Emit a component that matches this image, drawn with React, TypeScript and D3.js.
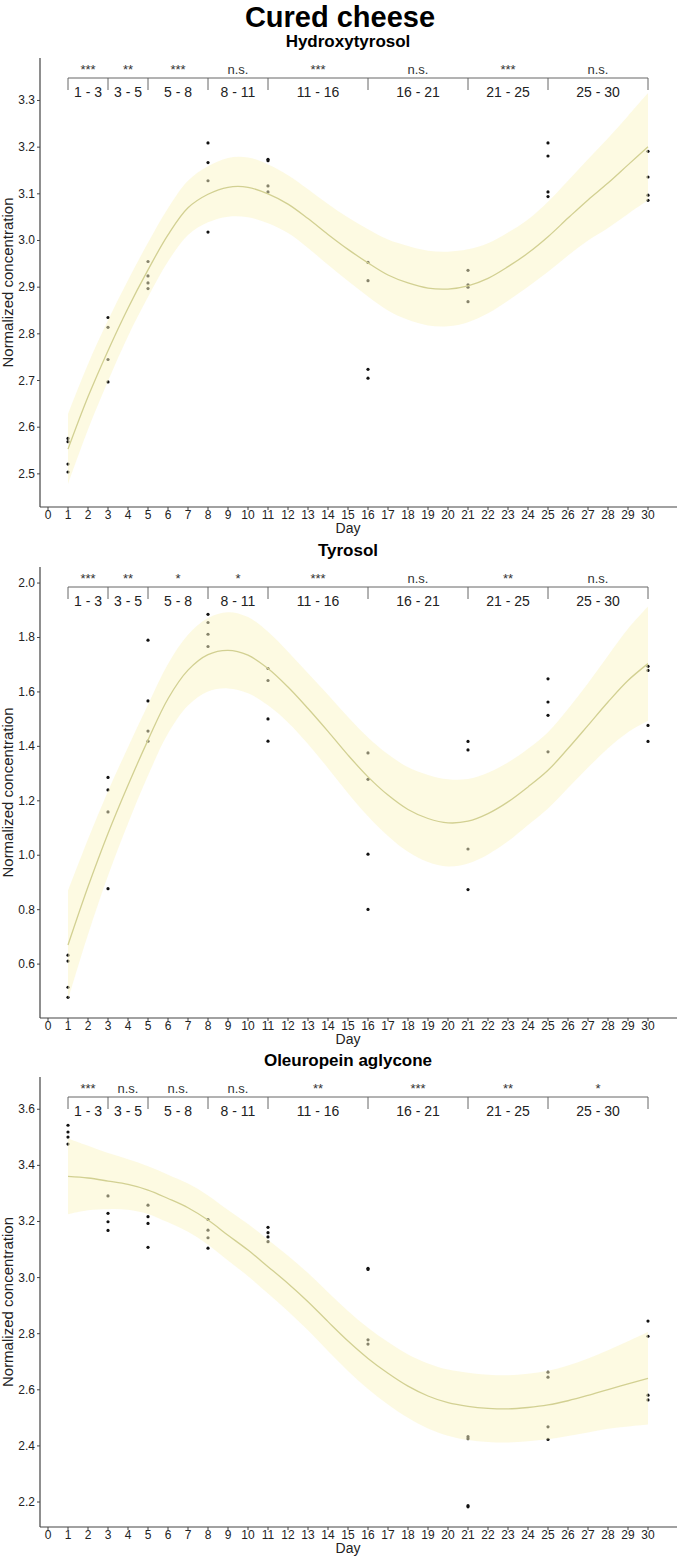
import React from 'react';
import * as d3 from 'd3';

const W = 679;
const H = 1559;
const FONT = '"Liberation Sans", Arial, sans-serif';

// sampling days
const sampleDays = [1, 3, 5, 8, 11, 16, 21, 25, 30];
const xTickLabels = ['0', '1', '2', '3', '4', '5', '6', '7', '8', '9', '10', '11', '12', '13', '14', '15',
  '16', '17', '18', '19', '20', '21', '22', '23', '24', '25', '26', '27', '28', '29', '30'];
const fitDays = [1, 2, 3, 4, 5, 6, 7, 8, 9, 10, 11, 12, 13, 14, 15, 16, 17, 18, 19, 20, 21, 22, 23, 24, 25, 26, 27, 28, 29, 30];
const intervals = ['1 - 3', '3 - 5', '5 - 8', '8 - 11', '11 - 16', '16 - 21', '21 - 25', '25 - 30'];

// Hydroxytyrosol
const htyPoints = [
  [2.576, 2.569, 2.521, 2.504],
  [2.835, 2.814, 2.745, 2.697],
  [2.955, 2.924, 2.909, 2.897],
  [3.209, 3.167, 3.128, 3.018],
  [3.174, 3.171, 3.117, 3.104],
  [2.953, 2.914, 2.724, 2.705],
  [2.936, 2.905, 2.900, 2.869],
  [3.209, 3.181, 3.104, 3.094],
  [3.191, 3.136, 3.097, 3.086],
];
const htyFit = [2.553, 2.665, 2.764, 2.855, 2.937, 3.012, 3.070, 3.099, 3.114, 3.114, 3.100, 3.078, 3.047, 3.013, 2.981,
  2.952, 2.926, 2.909, 2.898, 2.896, 2.903, 2.919, 2.944, 2.973, 3.008, 3.048, 3.087, 3.123, 3.162, 3.201];
const htyCi = [0.075, 0.07, 0.065, 0.06, 0.058, 0.057, 0.058, 0.06, 0.063, 0.064, 0.063, 0.062, 0.063, 0.065, 0.068,
  0.072, 0.076, 0.079, 0.08, 0.08, 0.078, 0.075, 0.073, 0.072, 0.075, 0.08, 0.087, 0.096, 0.105, 0.115];
const htySig = ['***', '**', '***', 'n.s.', '***', 'n.s.', '***', 'n.s.'];
const htyTicks = [2.5, 2.6, 2.7, 2.8, 2.9, 3.0, 3.1, 3.2, 3.3];

// Tyrosol
const tyrPoints = [
  [0.633, 0.611, 0.515, 0.478],
  [1.286, 1.240, 1.159, 0.877],
  [1.790, 1.567, 1.456, 1.419],
  [1.885, 1.855, 1.812, 1.767],
  [1.686, 1.642, 1.501, 1.419],
  [1.376, 1.279, 1.004, 0.801],
  [1.418, 1.387, 1.023, 0.874],
  [1.648, 1.563, 1.514, 1.380],
  [1.694, 1.679, 1.477, 1.418],
];
const tyrFit = [0.670, 0.884, 1.080, 1.257, 1.423, 1.575, 1.680, 1.737, 1.753, 1.735, 1.686, 1.618, 1.539, 1.455, 1.368,
  1.288, 1.221, 1.168, 1.135, 1.119, 1.125, 1.153, 1.196, 1.251, 1.312, 1.392, 1.477, 1.563, 1.642, 1.704];
const tyrCi = [0.2, 0.175, 0.155, 0.14, 0.13, 0.128, 0.13, 0.135, 0.14, 0.14, 0.135, 0.13, 0.13, 0.135, 0.14,
  0.145, 0.15, 0.155, 0.16, 0.16, 0.155, 0.15, 0.145, 0.14, 0.14, 0.145, 0.155, 0.17, 0.19, 0.21];
const tyrSig = ['***', '**', '*', '*', '***', 'n.s.', '**', 'n.s.'];
const tyrTicks = [0.6, 0.8, 1.0, 1.2, 1.4, 1.6, 1.8, 2.0];

// Oleuropein aglycone
const olePoints = [
  [3.543, 3.519, 3.501, 3.476],
  [3.291, 3.229, 3.199, 3.168],
  [3.258, 3.217, 3.193, 3.108],
  [3.207, 3.169, 3.142, 3.105],
  [3.179, 3.160, 3.145, 3.128],
  [3.033, 3.029, 2.778, 2.763],
  [2.433, 2.426, 2.187, 2.183],
  [2.663, 2.645, 2.468, 2.423],
  [2.845, 2.791, 2.581, 2.564],
];
const oleFit = [3.361, 3.355, 3.344, 3.332, 3.312, 3.282, 3.249, 3.205, 3.151, 3.098, 3.039, 2.979, 2.914, 2.843, 2.774,
  2.712, 2.659, 2.613, 2.578, 2.554, 2.541, 2.534, 2.532, 2.537, 2.546, 2.561, 2.580, 2.601, 2.621, 2.641];
const oleCi = [0.135, 0.115, 0.1, 0.09, 0.085, 0.085, 0.086, 0.088, 0.09, 0.093, 0.096, 0.099, 0.102, 0.105, 0.107,
  0.109, 0.111, 0.113, 0.116, 0.118, 0.12, 0.12, 0.12, 0.12, 0.122, 0.126, 0.132, 0.14, 0.152, 0.165];
const oleSig = ['***', 'n.s.', 'n.s.', 'n.s.', '**', '***', '**', '*'];
const oleTicks = [2.2, 2.4, 2.6, 2.8, 3.0, 3.2, 3.4, 3.6];

const panels = [
  { title: 'Hydroxytyrosol', top: 58, bottom: 507, domain: [2.429, 3.391], points: htyPoints, fit: htyFit, ci: htyCi, sig: htySig, ticks: htyTicks },
  { title: 'Tyrosol', top: 567, bottom: 1018, domain: [0.402, 2.059], points: tyrPoints, fit: tyrFit, ci: tyrCi, sig: tyrSig, ticks: tyrTicks },
  { title: 'Oleuropein aglycone', top: 1077, bottom: 1527, domain: [2.111, 3.715], points: olePoints, fit: oleFit, ci: oleCi, sig: oleSig, ticks: oleTicks },
];

const x = d3.scaleLinear().domain([0, 30]).range([48, 648]);
const axisLeft = 40;
const axisColor = '#444';

function Panel({ p }: { p: any }) {
  const y = d3.scaleLinear().domain(p.domain).range([p.bottom, p.top]);
  const band = d3.area<number>()
    .x((_, i) => x(fitDays[i]))
    .y0((d, i) => y(d - p.ci[i]))
    .y1((d, i) => y(d + p.ci[i]))
    .curve(d3.curveCatmullRom);
  const line = d3.line<number>()
    .x((_, i) => x(fitDays[i]))
    .y(d => y(d))
    .curve(d3.curveCatmullRom);
  const brY = p.top + 20;
  return (
    <g>
      <text x={348} y={p.top - 11} textAnchor="middle" fontSize={17} fontWeight="bold" fontFamily={FONT}>{p.title}</text>
      {/* points, then the ribbon over them */}
      {p.points.map((vals: number[], i: number) =>
        vals.map((v, j) => <circle key={`${i}-${j}`} cx={x(sampleDays[i])} cy={y(v)} r={1.6} fill="#111" />)
      )}
      <path d={band(p.fit) || ''} fill="#fbf5c6" fillOpacity={0.5} />
      <path d={line(p.fit) || ''} fill="none" stroke="#d2d092" strokeWidth={1.3} />
      {/* bracket */}
      <path d={`M${x(1)},${brY + 12}V${brY}H${x(30)}V${brY + 12}`} fill="none" stroke="#666" strokeWidth={1} />
      {sampleDays.slice(1, -1).map(d => (
        <line key={d} x1={x(d)} x2={x(d)} y1={brY} y2={brY + 12} stroke="#666" strokeWidth={1} />
      ))}
      {intervals.map((lab, i) => {
        const cx = (x(sampleDays[i]) + x(sampleDays[i + 1])) / 2;
        return (
          <g key={lab} fontFamily={FONT}>
            <text x={cx} y={brY - 4} textAnchor="middle" fontSize={13} fill="#333">{p.sig[i]}</text>
            <text x={cx} y={brY + 18.5} textAnchor="middle" fontSize={14} fill="#222">{lab}</text>
          </g>
        );
      })}
      {/* y axis */}
      <line x1={axisLeft} x2={axisLeft} y1={p.top} y2={p.bottom} stroke={axisColor} strokeWidth={1.2} />
      {p.ticks.map((t: number) => (
        <g key={t}>
          <line x1={axisLeft - 3} x2={axisLeft} y1={y(t)} y2={y(t)} stroke={axisColor} />
          <text x={axisLeft - 5} y={y(t) + 4} textAnchor="end" fontSize={12} fontFamily={FONT} fill="#222">{t.toFixed(1)}</text>
        </g>
      ))}
      <text transform={`translate(13,${(p.top + p.bottom) / 2}) rotate(-90)`} textAnchor="middle" fontSize={15} fontFamily={FONT} fill="#222">Normalized concentration</text>
      {/* x axis */}
      <line x1={axisLeft} x2={677} y1={p.bottom} y2={p.bottom} stroke={axisColor} strokeWidth={1.2} />
      {xTickLabels.map((t, i) => (
        <g key={t}>
          <line x1={x(i)} x2={x(i)} y1={p.bottom} y2={p.bottom + 3} stroke={axisColor} />
          <text x={x(i)} y={p.bottom + 12} textAnchor="middle" fontSize={12} fontFamily={FONT} fill="#222">{t}</text>
        </g>
      ))}
      <text x={348} y={p.bottom + 26} textAnchor="middle" fontSize={14} fontFamily={FONT} fill="#222">Day</text>
    </g>
  );
}

export default function App() {
  return (
    <svg width={W} height={H} style={{ position: 'absolute', left: 0, top: 0, background: '#fff' }}>
      <rect width={W} height={H} fill="#fff" />
      <text x={340} y={27} textAnchor="middle" fontSize={29} fontWeight="bold" fontFamily={FONT}>Cured cheese</text>
      {panels.map(p => <Panel key={p.title} p={p} />)}
    </svg>
  );
}
